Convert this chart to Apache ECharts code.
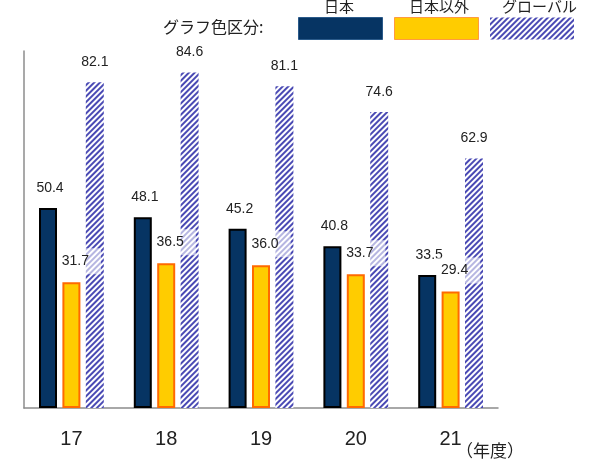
<html>
<head>
<meta charset="utf-8">
<title>グラフ</title>
<script src="https://cdn.jsdelivr.net/npm/echarts@6/dist/echarts.min.js"></script>
<style type="text/css">
body{
	margin:0;
	background-color:#fff;
}
</style>
</head>
<body>
<div id="chart" style="width:600px;height:466px;"></div>
<script type="text/javascript">
var years = ['17', '18', '19', '20', '21'];
var japan = [50.4, 48.1, 45.2, 40.8, 33.5];
var overseas = [31.7, 36.5, 36.0, 33.7, 29.4];
var global = [82.1, 84.6, 81.1, 74.6, 62.9];
var names = ['日本', '日本以外', 'グローバル'];

var font = '"Liberation Sans", Arial, "Noto Sans CJK JP", sans-serif';
var jpFont = 'Noto Sans CJK JP';

function fmt(p){
	return p.value.toFixed(1);
}

function jpText(str, left, top, size){
	return {type: 'text', left: left, top: top,
		style: {text: str, fontFamily: jpFont, fontSize: size, fontWeight: 'normal', fill: '#222'}};
}

var hatch = {
	symbol: 'rect',
	symbolSize: 1,
	dashArrayX: [1, 0],
	dashArrayY: [1.4, 1.1],
	rotation: -Math.PI / 4,
	color: '#4a4ab4'
};

var myChart = echarts.init(document.getElementById('chart'));
var option = {
	animation: false,
	textStyle: {fontFamily: font},
	grid: {left: 24, right: 102, top: 51, bottom: 58},
	legend: {
		left: 298,
		top: 17,
		padding: 0,
		icon: 'rect',
		itemWidth: 84,
		itemHeight: 22,
		itemGap: 11,
		formatter: function(){ return ''; },
		selectedMode: false,
		data: [
			{name: names[0], itemStyle: {borderColor: '#2a5a8a', borderWidth: 1}},
			{name: names[1], itemStyle: {borderColor: '#ff9a40', borderWidth: 1}},
			{name: names[2], itemStyle: {borderWidth: 0}}
		]
	},
	graphic: [
		jpText('グラフ色区分:', 163, 19, 16),
		jpText(names[0], 324, -1, 15),
		jpText(names[1], 409, -1, 15),
		jpText(names[2], 502, -1, 15),
		jpText('（年度）', 456, 442, 17)
	],
	xAxis: {
		type: 'category',
		data: years,
		axisLine: {lineStyle: {color: '#8c8c8c', width: 1.5}},
		axisTick: {inside: true, length: 5, lineStyle: {color: '#8c8c8c'}},
		axisLabel: {fontSize: 20, color: '#222', margin: 21}
	},
	yAxis: {
		type: 'value',
		min: 0,
		max: 90,
		axisLine: {show: true, lineStyle: {color: '#8c8c8c', width: 1.5}},
		axisTick: {show: false},
		axisLabel: {show: false},
		splitLine: {show: false}
	},
	series: [{
		name: names[0],
		type: 'bar',
		barWidth: 18,
		barGap: '30%',
		data: japan,
		itemStyle: {color: '#063463', borderColor: '#000', borderWidth: 2},
		label: {show: true, position: 'top', distance: 13, offset: [2, 0], fontSize: 14, color: '#222', formatter: fmt}
	},{
		name: names[1],
		type: 'bar',
		barWidth: 18,
		data: overseas,
		itemStyle: {color: '#ffcc00', borderColor: '#ff6a00', borderWidth: 2},
		label: {show: true, position: 'top', distance: 8, offset: [8, 0], fontSize: 14, color: '#222',
			backgroundColor: 'rgba(255,255,255,0.6)', padding: [6, 12, 6, 4], formatter: fmt}
	},{
		name: names[2],
		type: 'bar',
		barWidth: 18,
		data: global,
		itemStyle: {color: '#ffffff', decal: hatch},
		label: {show: true, position: 'top', distance: 13, fontSize: 14, color: '#222', formatter: fmt}
	}]
};
myChart.setOption(option);
</script>
</body>
</html>
